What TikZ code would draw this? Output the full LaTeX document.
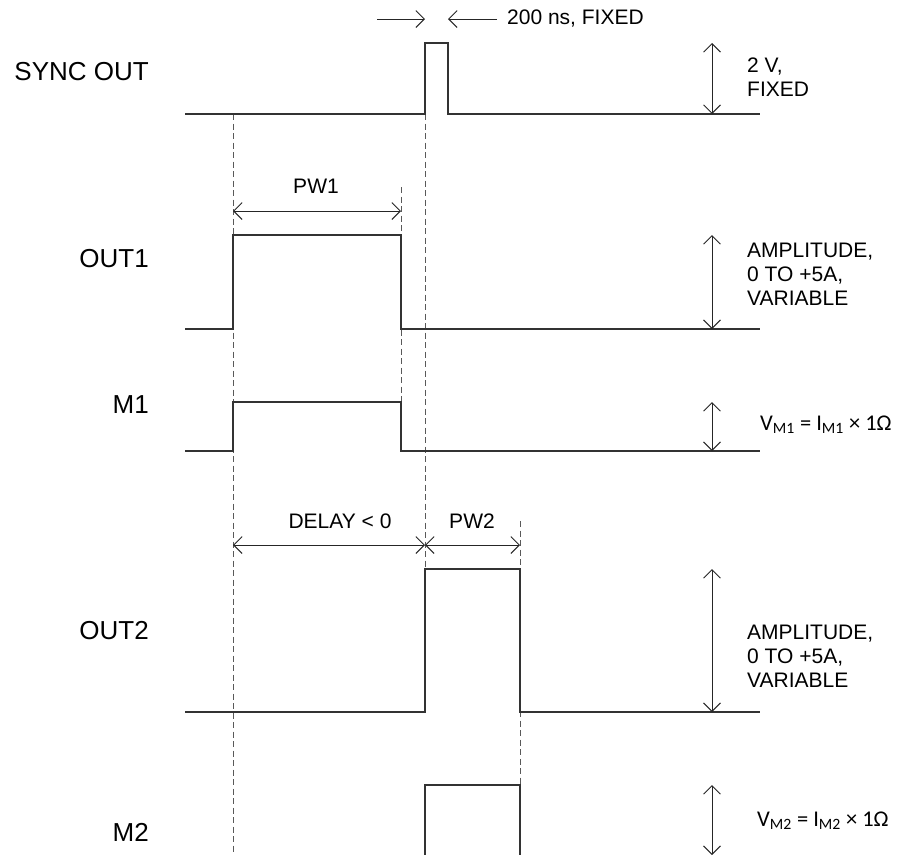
\documentclass[tikz,border=0pt]{standalone}
\usepackage{fontspec}
\setmainfont{Liberation Sans}
\newfontfamily\calfont{Carlito}
\usetikzlibrary{arrows.meta}
\begin{document}
\begin{tikzpicture}[x=1pt,y=-1pt,
  sig/.style={line width=1.3pt, draw=black!80},
  guide/.style={line width=1pt, draw=black!65, dash pattern=on 6pt off 3.5pt},
  barb/.tip={Straight Barb[length=8.5pt,width=17pt,line width=0.9pt]},
  dim/.style={line width=0.9pt, draw=black!85, barb-barb},
  onearr/.style={line width=0.9pt, draw=black!85, -barb},
  lbl/.style={font=\fontsize{26}{30}\selectfont, anchor=east, inner sep=0pt},
  ann/.style={font=\fontsize{21}{24}\selectfont, anchor=west, inner sep=0pt, align=left},
  eqn/.style={font=\calfont\fontsize{22.5}{26}\selectfont, anchor=west, inner sep=0pt}]
\useasboundingbox (0,0) rectangle (898,855);

% ---- coordinates ----
\coordinate (gA1) at (233,114);  \coordinate (gA2) at (233,855);
\coordinate (gB1) at (401,187);  \coordinate (gB2) at (401,451);
\coordinate (gC1) at (425,114);  \coordinate (gC2) at (425,569);
\coordinate (gE1) at (520,521);  \coordinate (gE2) at (520,785);

% guides
\draw[guide] (gA1) -- (gA2);
\draw[guide] (gB1) -- (gB2);
\draw[guide] (gC1) -- (gC2);
\draw[guide] (gE1) -- (gE2);

% ---- waveforms ----
\draw[sig] (185,114) -- (425,114) -- (425,43) -- (448,43) -- (448,114) -- (760,114);
\draw[sig] (185,329) -- (233,329) -- (233,235) -- (401,235) -- (401,329) -- (760,329);
\draw[sig] (185,451) -- (233,451) -- (233,402) -- (401,402) -- (401,451) -- (760,451);
\draw[sig] (185,712) -- (425,712) -- (425,569) -- (520,569) -- (520,712) -- (760,712);
\draw[sig] (425,855) -- (425,785) -- (520,785) -- (520,855);

% ---- labels ----
\node[lbl] (lsync) at (149,72)  {SYNC OUT};
\node[lbl] (lout1) at (149,259) {OUT1};
\node[lbl] (lm1)   at (149,405) {M1};
\node[lbl] (lout2) at (149,631) {OUT2};
\node[lbl] (lm2)   at (149,832) {M2};

% ---- 200 ns marker ----
\coordinate (t1a) at (377,19); \coordinate (t1b) at (425,19);
\coordinate (t2a) at (497,19); \coordinate (t2b) at (448,19);
\draw[onearr] (t1a) -- (t1b);
\draw[onearr] (t2a) -- (t2b);
\node[ann] (tns) at (507,19) {200 ns, FIXED};

% ---- horizontal dimensions ----
\coordinate (pw1a) at (233,211); \coordinate (pw1b) at (401,211);
\draw[dim] (pw1a) -- (pw1b);
\node[ann, anchor=center] (tpw1) at (316,186) {PW1};

\coordinate (dla) at (233,545); \coordinate (dlb) at (425,545); \coordinate (dlc) at (520,545);
\draw[dim] (dla) -- (dlb);
\draw[dim] (dlb) -- (dlc);
\node[ann, anchor=center] (tdel) at (340,521) {DELAY < 0};
\node[ann, anchor=center] (tpw2) at (472,521) {PW2};

% ---- vertical amplitude arrows ----
\coordinate (v1a) at (712,43);  \coordinate (v1b) at (712,114);
\coordinate (v2a) at (712,235); \coordinate (v2b) at (712,329);
\coordinate (v3a) at (712,402); \coordinate (v3b) at (712,451);
\coordinate (v4a) at (712,569); \coordinate (v4b) at (712,712);
\coordinate (v5a) at (712,785); \coordinate (v5b) at (712,855);
\draw[dim] (v1a) -- (v1b);
\draw[dim] (v2a) -- (v2b);
\draw[dim] (v3a) -- (v3b);
\draw[dim] (v4a) -- (v4b);
\draw[dim] (v5a) -- (v5b);

\node[ann] (a1) at (747,77) {2 V,\\FIXED};
\node[ann] (a2) at (747,274) {AMPLITUDE,\\0 TO +5A,\\VARIABLE};
\node[eqn] (a3) at (760,425) {V\textsubscript{M1} = I\textsubscript{M1} × 1Ω};
\node[ann] (a4) at (747,656) {AMPLITUDE,\\0 TO +5A,\\VARIABLE};
\node[eqn] (a5) at (757,821) {V\textsubscript{M2} = I\textsubscript{M2} × 1Ω};
\end{tikzpicture}
\end{document}
